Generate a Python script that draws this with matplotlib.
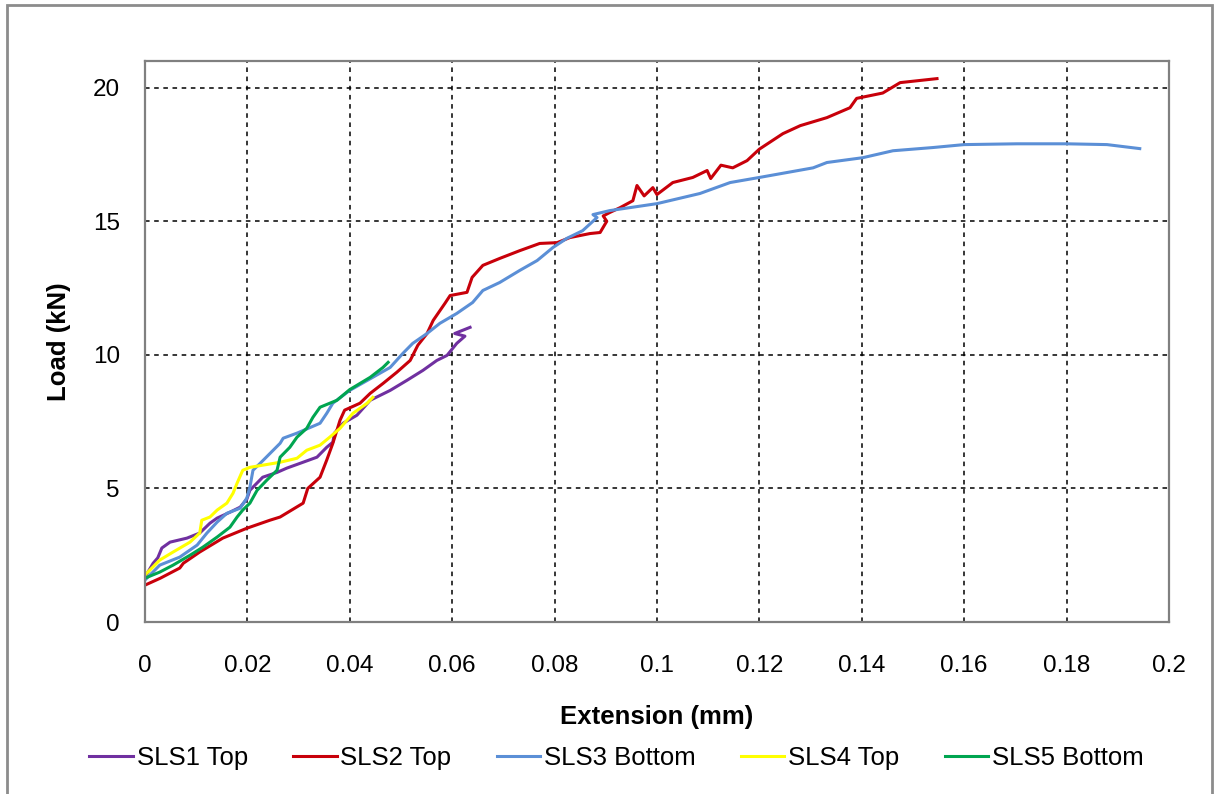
# Load vs extension curves for the SLS specimens
import matplotlib.pyplot as plt
from matplotlib.patches import Rectangle

plt.rcParams["font.family"] = ["Liberation Sans", "DejaVu Sans"]

# 1. Data (extension in mm, load in kN)
sls1_x = [0, 0.0016, 0.0025, 0.0033, 0.0049, 0.0082, 0.0107, 0.0127, 0.0141, 0.0166,
          0.0186, 0.0199, 0.0205, 0.023, 0.0258, 0.0277, 0.0303, 0.0336, 0.0355, 0.0367,
          0.037, 0.0387, 0.0414, 0.044, 0.0479, 0.0512, 0.0543, 0.057, 0.059, 0.0609,
          0.0625, 0.0605, 0.0635]
sls1_y = [1.68, 2.2, 2.4, 2.77, 2.99, 3.14, 3.33, 3.7, 3.89, 4.11,
          4.3, 4.6, 4.93, 5.42, 5.6, 5.76, 5.94, 6.17, 6.54, 6.73,
          7.07, 7.44, 7.74, 8.3, 8.67, 9.05, 9.42, 9.79, 9.98, 10.43,
          10.7, 10.8, 11.03]

sls2_x = [0, 0.003, 0.0068, 0.0075, 0.0107, 0.0152, 0.0199, 0.0244, 0.0264, 0.0309,
          0.0318, 0.0342, 0.0355, 0.0367, 0.0381, 0.039, 0.042, 0.044, 0.0465, 0.0492,
          0.0518, 0.0533, 0.0551, 0.0563, 0.0586, 0.0596, 0.0629, 0.0639, 0.066, 0.0693,
          0.0732, 0.0771, 0.0805, 0.083, 0.0869, 0.0889, 0.0902, 0.0895, 0.0908, 0.0928,
          0.0953, 0.0961, 0.0975, 0.0992, 0.1, 0.1031, 0.107, 0.1098, 0.1105, 0.1125,
          0.1148, 0.1176, 0.12, 0.1246, 0.128, 0.1332, 0.1377, 0.139, 0.1441, 0.1475,
          0.1547]
sls2_y = [1.38, 1.64, 2.02, 2.2, 2.62, 3.14, 3.51, 3.81, 3.93, 4.45,
          5.0, 5.42, 6.06, 6.69, 7.55, 7.93, 8.19, 8.56, 8.93, 9.35,
          9.79, 10.36, 10.8, 11.29, 11.93, 12.22, 12.34, 12.9, 13.35, 13.61,
          13.9, 14.17, 14.2, 14.39, 14.54, 14.58, 15.0, 15.2, 15.33, 15.51,
          15.77, 16.34, 15.95, 16.26, 16.0, 16.45, 16.64, 16.9, 16.6, 17.1,
          17.0, 17.27, 17.7, 18.28, 18.58, 18.88, 19.25, 19.6, 19.8, 20.19,
          20.34]

sls3_x = [0, 0.0029, 0.0068, 0.0102, 0.0121, 0.0141, 0.016, 0.0186, 0.0199, 0.0205,
          0.0211, 0.0225, 0.0264, 0.027, 0.0297, 0.0342, 0.0355, 0.0367, 0.04, 0.0445,
          0.0479, 0.0504, 0.0523, 0.0551, 0.0576, 0.0609, 0.064, 0.066, 0.0693, 0.0732,
          0.0766, 0.0797, 0.0824, 0.0855, 0.0883, 0.0875, 0.0908, 0.1, 0.1084, 0.1143,
          0.12, 0.1305, 0.1332, 0.1402, 0.1461, 0.1539, 0.16, 0.1703, 0.18, 0.1879,
          0.1943]
sls3_y = [1.57, 2.13, 2.43, 2.88, 3.33, 3.74, 4.07, 4.26, 4.64, 5.05,
          5.68, 5.94, 6.69, 6.88, 7.07, 7.44, 7.81, 8.19, 8.67, 9.16,
          9.53, 10.06, 10.43, 10.8, 11.18, 11.55, 11.96, 12.41, 12.71, 13.16,
          13.53, 14.02, 14.36, 14.65, 15.14, 15.25, 15.4, 15.66, 16.04, 16.45,
          16.64, 17.0, 17.2, 17.38, 17.64, 17.76, 17.87, 17.9, 17.9, 17.87,
          17.72]

sls4_x = [0, 0.0029, 0.0055, 0.0088, 0.0107, 0.0111, 0.0127, 0.0141, 0.016, 0.0172,
          0.018, 0.0191, 0.0205, 0.023, 0.0264, 0.0297, 0.0316, 0.0342, 0.0361, 0.0381,
          0.0406, 0.0434, 0.0445]
sls4_y = [1.76, 2.32, 2.62, 2.99, 3.33, 3.81, 3.93, 4.19, 4.45, 4.82,
          5.2, 5.68, 5.79, 5.87, 5.98, 6.13, 6.43, 6.62, 6.92, 7.25,
          7.81, 8.19, 8.41]

sls5_x = [0, 0.0029, 0.0055, 0.0088, 0.0113, 0.0141, 0.0166, 0.018, 0.0191, 0.0205,
          0.0219, 0.0238, 0.0258, 0.0264, 0.0283, 0.0297, 0.0316, 0.0328, 0.0342, 0.0375,
          0.04, 0.044, 0.0465, 0.0475]
sls5_y = [1.64, 1.87, 2.13, 2.5, 2.8, 3.18, 3.55, 3.93, 4.19, 4.45,
          4.93, 5.31, 5.68, 6.17, 6.54, 6.92, 7.25, 7.66, 8.04, 8.3,
          8.7, 9.16, 9.53, 9.72]

labels = ["SLS1 Top", "SLS2 Top", "SLS3 Bottom", "SLS4 Top", "SLS5 Bottom"]
colors = ["#7030A0", "#C8000A", "#5B8FD6", "#FFFF00", "#00A550"]

x_ticks = [0, 0.02, 0.04, 0.06, 0.08, 0.1, 0.12, 0.14, 0.16, 0.18, 0.2]
x_tick_labels = ["0", "0.02", "0.04", "0.06", "0.08", "0.1", "0.12", "0.14", "0.16", "0.18", "0.2"]
y_ticks = [0, 5, 10, 15, 20]

# 2. Figure
fig = plt.figure(figsize=(12.16, 7.94), dpi=100)
ax = fig.add_axes([0.1192, 0.2166, 0.8421, 0.7066])

series = [(sls1_x, sls1_y), (sls2_x, sls2_y), (sls3_x, sls3_y),
          (sls4_x, sls4_y), (sls5_x, sls5_y)]
for (xs, ys), lab, col in zip(series, labels, colors):
    ax.plot(xs, ys, color=col, lw=2.2, label=lab)

ax.set_xlim(0, 0.2)
ax.set_ylim(0, 21)
ax.set_xticks(x_ticks)
ax.set_xticklabels(x_tick_labels)
ax.set_yticks(y_ticks)
ax.tick_params(axis="x", length=0, pad=24, labelsize=17.5)
ax.tick_params(axis="y", length=0, pad=18, labelsize=17.5)
ax.grid(True, color="black", linestyle=(0, (3, 3)), linewidth=1.1)
ax.set_axisbelow(True)
for s in ax.spines.values():
    s.set_color("#808080")
    s.set_linewidth(1.6)

ax.set_xlabel("Extension (mm)", fontsize=18.5, fontweight="bold", labelpad=20)
ax.set_ylabel("Load (kN)", fontsize=18.5, fontweight="bold", labelpad=16)

fig.legend(loc="center", bbox_to_anchor=(0.507, 0.045), ncol=5, frameon=False,
           fontsize=18.5, handlelength=1.7, columnspacing=1.75, handletextpad=0.15)

# outer chart border
fig.patches.append(Rectangle((7 / 1216, -0.01), 1205 / 1216, 1 - 5 / 794 + 0.01,
                             transform=fig.transFigure, fill=False,
                             edgecolor="#8c8c8c", linewidth=2))

fig.savefig("out.png", dpi=100)
